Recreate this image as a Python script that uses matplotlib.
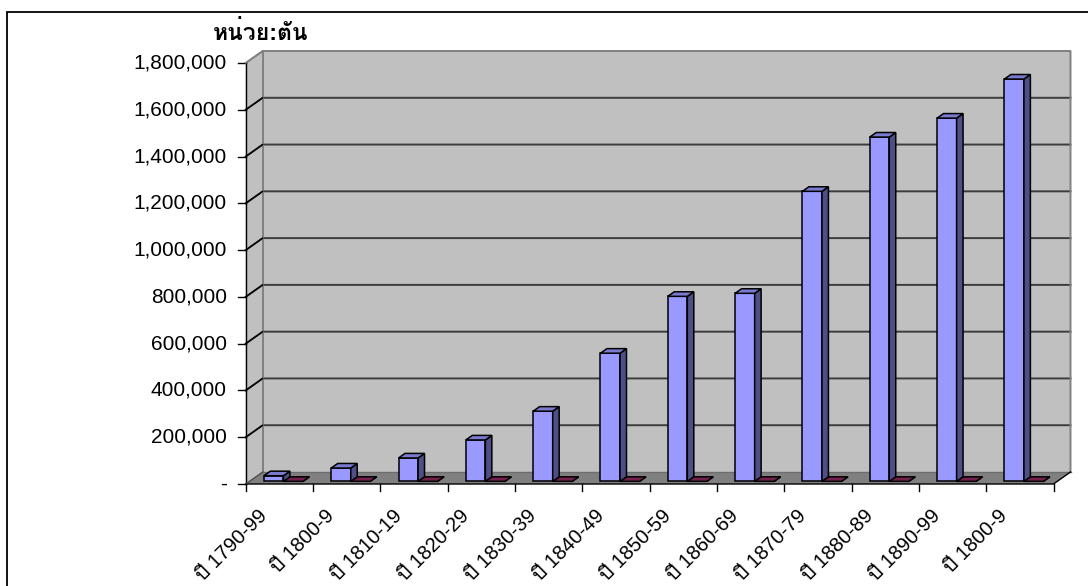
import matplotlib
matplotlib.use("Agg")
import matplotlib.pyplot as plt
from matplotlib.patches import Polygon, Rectangle
from matplotlib.lines import Line2D
from matplotlib import font_manager
from matplotlib.ft2font import FT2Font

# ---------------- data ----------------
categories = ["ปี 1790-99", "ปี 1800-9", "ปี 1810-19", "ปี 1820-29", "ปี 1830-39",
              "ปี 1840-49", "ปี 1850-59", "ปี 1860-69", "ปี 1870-79", "ปี 1880-89",
              "ปี 1890-99", "ปี 1800-9"]
series_main = [24000, 57000, 100000, 177000, 300000, 548000, 791000, 804000,
               1240000, 1472000, 1553000, 1720000]
series_second = [0, 0, 0, 0, 0, 0, 0, 0, 0, 0, 0, 0]
ytick_values = [0, 200000, 400000, 600000, 800000, 1000000, 1200000, 1400000, 1600000, 1800000]
ytick_labels = ["-", "200,000", "400,000", "600,000", "800,000", "1,000,000",
                "1,200,000", "1,400,000", "1,600,000", "1,800,000"]
unit_title = "หน่วย:ตัน"

# ---------------- fonts ----------------
thai_family = None
preferred = []
for fe in font_manager.fontManager.ttflist:
    try:
        cm = FT2Font(fe.fname).get_charmap()
    except Exception:
        continue
    if 0x0E1B in cm and 0x0E35 in cm and 0x0E19 in cm:
        preferred.append(fe.name)
if preferred:
    sans = [n for n in preferred if "Sans" in n or "Loma" in n or "Garuda" in n]
    thai_family = (sans or preferred)[0]
fam = ["Liberation Sans"] + ([thai_family] if thai_family else []) + ["DejaVu Sans"]
plt.rcParams["font.family"] = fam

W, H, DPI = 1088, 586, 100
fig = plt.figure(figsize=(W / DPI, H / DPI), dpi=DPI)
fig.patch.set_facecolor("white")

# plot (front plane) geometry in pixels
x_left, x_right = 245.7, 1053.5
y_zero, y_top = 484.0, 63.0
ax = fig.add_axes([x_left / W, 1 - y_zero / H, (x_right - x_left) / W, (y_zero - y_top) / H])
n = len(categories)
ymax = ytick_values[-1]
ax.set_xlim(0, n)
ax.set_ylim(0, ymax)
ax.axis("off")

# depth vector (pixels -> data)
px_per_x = (x_right - x_left) / n
px_per_y = (y_zero - y_top) / ymax
DX = 17.0 / px_per_x
DY = 12.0 / px_per_y


def P(x, y, z):
    return (x + z * DX, y + z * DY)


def poly(pts, fc, ec="none", lw=0.0, zo=1):
    ax.add_patch(Polygon(pts, closed=True, facecolor=fc, edgecolor=ec, linewidth=lw,
                         zorder=zo, clip_on=False, joinstyle="miter"))


wall = "#C0C0C0"
floor = "#808080"
edge_gray = "#808080"
grid_c = "#3C3C3C"

# side wall (left)
poly([P(0, 0, 0), P(0, 0, 1), P(0, ymax, 1), P(0, ymax, 0)], wall, zo=1)
# back wall
poly([P(0, 0, 1), P(n, 0, 1), P(n, ymax, 1), P(0, ymax, 1)], wall, zo=1)
# floor
poly([P(0, 0, 0), P(n, 0, 0), P(n, 0, 1), P(0, 0, 1)], floor, zo=2)

# gridlines
for v in ytick_values[1:-1]:
    xs, ys = zip(P(0, v, 0), P(0, v, 1), P(n, v, 1))
    ax.add_line(Line2D(xs, ys, color=grid_c, lw=1.4, zorder=3, clip_on=False))
# wall edges
xs, ys = zip(P(0, ymax, 0), P(0, ymax, 1), P(n, ymax, 1), P(n, 0, 1))
ax.add_line(Line2D(xs, ys, color=edge_gray, lw=1.4, zorder=3, clip_on=False))
xs, ys = zip(P(0, 0, 1), P(0, ymax, 1))
ax.add_line(Line2D(xs, ys, color=edge_gray, lw=1.4, zorder=3, clip_on=False))
xs, ys = zip(P(0, 0, 1), P(n, 0, 1))
ax.add_line(Line2D(xs, ys, color="#6E6E6E", lw=1.0, zorder=3, clip_on=False))

# front axes lines
ax.add_line(Line2D([0, 0], [0, ymax], color="black", lw=1.0, zorder=4, clip_on=False))
xs, ys = zip(P(0, 0, 0), P(n, 0, 0), P(n, 0, 1))
ax.add_line(Line2D(xs, ys, color="black", lw=1.0, zorder=4, clip_on=False))
xs, ys = zip(P(0, 0, 0), P(0, 0, 1))
ax.add_line(Line2D(xs, ys, color="#505050", lw=1.0, zorder=4, clip_on=False))

# y ticks + labels
tick_len_x = 8.0 / px_per_x
for v, lab in zip(ytick_values, ytick_labels):
    ax.add_line(Line2D([-tick_len_x, 0], [v, v], color="black", lw=1.0, zorder=4, clip_on=False))
    if v > 0:
        xs, ys = zip(P(0, v, 0), P(0, v, 1))
        ax.add_line(Line2D(xs, ys, color="black" if v < ymax else edge_gray, lw=1.0,
                           zorder=4, clip_on=False))
    ax.annotate(lab, xy=(0, v), xytext=(-19, 0), textcoords="offset pixels",
                ha="right", va="center", fontsize=15, color="black",
                annotation_clip=False)

# x ticks + labels
tick_len_y = 7.0 / px_per_y
for i in range(n + 1):
    ax.add_line(Line2D([i, i], [0, -tick_len_y], color="black", lw=1.0, zorder=4, clip_on=False))
for i, lab in enumerate(categories):
    ax.annotate(lab, xy=(i + 0.5, 0), xytext=(-15, -29), textcoords="offset pixels",
                ha="right", va="center", rotation=45, rotation_mode="anchor",
                fontsize=14.5, color="black", annotation_clip=False)

# bars
z0, z1 = 0.22, 0.60
bw = 0.29
blue_front, blue_top, blue_side = "#9999FF", "#7A7AD0", "#4F4F88"
red_front, red_top, red_side = "#993366", "#74204C", "#5A1838"


def bar(x0, h, fcs):
    x1 = x0 + bw
    front, top, side = fcs
    poly([P(x0, 0, z0), P(x1, 0, z0), P(x1, h, z0), P(x0, h, z0)], front, "black", 1.1, 5)
    poly([P(x1, 0, z0), P(x1, 0, z1), P(x1, h, z1), P(x1, h, z0)], side, "black", 1.1, 5)
    poly([P(x0, h, z0), P(x1, h, z0), P(x1, h, z1), P(x0, h, z1)], top, "black", 1.1, 5)


for i in range(n):
    bar(i + 0.505, series_second[i], (red_front, red_top, red_side))
    bar(i + 0.215, series_main[i], (blue_front, blue_top, blue_side))

# unit title
fig.text(261 / W, 1 - 33 / H, unit_title, ha="center", va="center",
         fontsize=16.5, fontweight="bold")

# outer border
fig.patches.append(Rectangle((7 / W, -0.2), 1.2, 1.2 - 12 / H + 0.0, transform=fig.transFigure,
                             fill=False, edgecolor="black", linewidth=1.3))

fig.savefig("out.png", dpi=DPI)
